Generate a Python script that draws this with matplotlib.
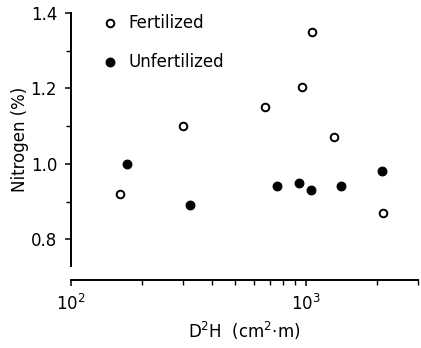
import matplotlib
matplotlib.use("Agg")
import matplotlib.pyplot as plt
from matplotlib.ticker import MultipleLocator, FormatStrFormatter, LogLocator, NullFormatter

# Data
fert_x = [162, 300, 670, 964, 1064, 1315, 2133]
fert_y = [0.92, 1.10, 1.15, 1.205, 1.35, 1.07, 0.87]
unfert_x = [173, 320, 753, 931, 1047, 1409, 2118]
unfert_y = [1.00, 0.89, 0.94, 0.95, 0.93, 0.94, 0.98]

series_labels = ["Fertilized", "Unfertilized"]
x_label = "D$^2$H  (cm$^2$$\\cdot$m)"
y_label = "Nitrogen (%)"

plt.rcParams['font.family'] = ['DejaVu Sans']
fig = plt.figure(figsize=(4.21, 3.48), dpi=100)
ax = fig.add_axes([71/421, (348-266)/348, (418-71)/421, (266-13)/348])

ax.scatter(fert_x, fert_y, s=30, facecolors='white', edgecolors='black',
           linewidths=1.4, label=series_labels[0], zorder=3)
ax.scatter(unfert_x, unfert_y, s=40, facecolors='black', edgecolors='black',
           linewidths=0.8, label=series_labels[1], zorder=3)

ax.set_xscale('log')
ax.set_xlim(100, 3000)
ax.set_ylim(0.729, 1.4)

ax.xaxis.set_major_locator(LogLocator(base=10, numticks=10))
ax.xaxis.set_minor_locator(LogLocator(base=10, subs=range(2, 10), numticks=20))
ax.xaxis.set_minor_formatter(NullFormatter())
ax.yaxis.set_major_locator(MultipleLocator(0.2))
ax.yaxis.set_minor_locator(MultipleLocator(0.1))
ax.yaxis.set_major_formatter(FormatStrFormatter('%.1f'))

for s in ['top', 'right']:
    ax.spines[s].set_visible(False)
ax.spines['bottom'].set_position(('outward', 10))
ax.spines['left'].set_linewidth(1.4)
ax.spines['bottom'].set_linewidth(1.4)

ax.tick_params(axis='both', which='major', direction='out', length=4, width=1.1,
               labelsize=12, pad=6)
ax.tick_params(axis='both', which='minor', direction='out', length=3.5, width=1.0)

ax.set_xlabel(x_label, fontsize=12, labelpad=4)
ax.set_ylabel(y_label, fontsize=12, labelpad=1)

leg = ax.legend(loc='upper left', bbox_to_anchor=(0.045, 1.056), frameon=False,
                fontsize=12, labelspacing=1.25, handletextpad=0.6,
                handlelength=1.0, markerscale=1.0)

fig.savefig("out.png", dpi=100)
